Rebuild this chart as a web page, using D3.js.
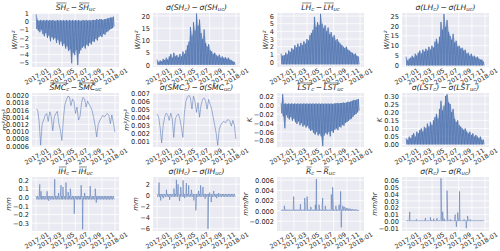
<!DOCTYPE html>
<html>
<head>
<meta charset="utf-8">
<script src="https://cdn.jsdelivr.net/npm/d3@7"></script>
<style>
  body { margin: 0; background: #fff; }
  svg text { font-family: "DejaVu Sans", sans-serif; fill: #262626; }
</style>
</head>
<body>
<svg width="500" height="251"></svg>
<script>
const tickMonths = ["2017-01", "2017-03", "2017-05", "2017-07", "2017-09", "2017-11", "2018-01"];

// weekly upper / lower envelopes over 2017 (week 0 = 1 Jan)
const shMeanHi = [0.9,0.2,0.1,0.2,0.1,0.2,0.1,0.2,0.1,0.2,0.1,0.2,0.1,0.1,0.2,0.1,0.2,0.1,0.2,0.1,0.2,0.1,0.2,0.1,0.2,0.1,0.2,0.1,0.2,0.1,0.1,0.2,0.1,0.2,0.1,0.2,0.1,0.2,0.2,0.2,0.3,0.2,0.3,0.3,0.2,0.3,0.3,0.4,0.4,0.5,0.5,0.6];
const shMeanLo = [-0.9,-1.1,-1.3,-1.0,-1.5,-1.8,-1.4,-2.0,-1.7,-2.4,-1.9,-2.2,-2.0,-2.6,-2.2,-2.8,-2.4,-3.0,-2.7,-3.3,-3.0,-3.6,-3.4,-5.1,-3.8,-4.1,-3.5,-5.3,-3.9,-3.5,-3.2,-3.0,-3.3,-2.8,-3.0,-2.6,-2.8,-2.4,-2.5,-2.1,-2.3,-1.9,-1.7,-1.9,-1.5,-1.6,-1.3,-1.2,-1.0,-0.9,-0.8,-0.6];
const sdShHi = [2.2,1.2,1.8,1.5,2.5,2.0,3.0,2.2,3.5,4.5,3.0,5.0,3.5,4.0,3.2,4.5,3.5,5.5,4.5,6.0,8.0,9.5,15.5,12.0,17.5,14.0,21.0,16.0,18.5,13.0,10.5,14.5,9.0,7.5,8.5,6.0,5.5,4.5,5.0,4.0,3.5,4.2,3.0,3.5,2.8,3.2,2.5,3.0,2.2,2.0,1.5,1.2];
const sdShLo = 0.1;
const lhMeanHi = [1.1,0.8,0.9,1.2,1.0,1.5,1.3,1.8,1.6,2.2,1.9,2.4,2.0,2.5,2.2,2.7,2.4,3.0,2.8,3.5,3.8,4.2,5.9,4.6,5.2,4.8,6.3,5.0,4.4,4.8,4.0,4.5,3.6,3.9,3.2,3.5,2.8,3.0,2.6,2.4,2.2,2.0,1.8,2.0,1.6,1.5,1.3,1.2,1.0,1.1,0.8,0.7];
const lhMeanLo = -0.3;
const sdLhHi = [4.5,2.5,3.5,4.0,5.0,4.0,6.0,5.0,6.5,7.5,6.0,8.0,7.0,8.5,7.5,9.5,8.0,10.0,9.0,12.0,13.5,11.0,14.5,22.0,18.0,26.0,19.5,23.0,17.0,15.0,13.0,16.0,11.5,12.5,9.5,10.0,8.5,9.0,7.5,8.0,6.0,6.5,5.0,6.0,4.5,5.0,4.0,4.5,3.5,3.0,3.0,2.0];
const sdLhLo = 0.1;
const lstMeanHi = [0.004,0.025,0.003,0.004,0.003,0.004,0.003,0.004,0.003,0.004,0.003,0.004,0.003,0.004,0.003,0.004,0.003,0.004,0.003,0.004,0.003,0.004,0.003,0.004,0.003,0.004,0.003,0.004,0.003,0.004,0.003,0.004,0.003,0.004,0.003,0.004,0.004,0.005,0.004,0.005,0.005,0.006,0.005,0.006,0.008,0.007,0.009,0.010,0.012,0.011,0.013,0.014];
const lstMeanLo = [-0.018,-0.025,-0.052,-0.022,-0.028,-0.032,-0.026,-0.035,-0.030,-0.038,-0.042,-0.036,-0.045,-0.040,-0.048,-0.044,-0.050,-0.046,-0.052,-0.058,-0.055,-0.062,-0.066,-0.060,-0.068,-0.064,-0.070,-0.092,-0.068,-0.062,-0.066,-0.060,-0.070,-0.058,-0.062,-0.055,-0.052,-0.056,-0.048,-0.050,-0.044,-0.046,-0.040,-0.038,-0.035,-0.032,-0.030,-0.026,-0.022,-0.020,-0.016,-0.012];
const sdLstHi = [0.04,0.03,0.05,0.04,0.06,0.07,0.05,0.08,0.07,0.09,0.10,0.08,0.11,0.10,0.13,0.11,0.14,0.12,0.15,0.17,0.19,0.16,0.22,0.27,0.21,0.24,0.30,0.31,0.26,0.25,0.20,0.22,0.16,0.14,0.15,0.12,0.11,0.10,0.09,0.10,0.08,0.07,0.08,0.06,0.07,0.05,0.06,0.05,0.04,0.05,0.03,0.03];
const sdLstLo = 0.002;

// soil moisture: one value per week
const smcMean = [0.00163,0.00160,0.00128,0.00062,0.00122,0.00132,0.00145,0.00150,0.00128,0.00155,0.00142,0.00102,0.00140,0.00150,0.00156,0.00122,0.00105,0.00075,0.00135,0.00175,0.00188,0.00198,0.00196,0.00172,0.00190,0.00183,0.00150,0.00168,0.00132,0.00142,0.00180,0.00195,0.00190,0.00168,0.00185,0.00175,0.00168,0.00158,0.00138,0.00115,0.00085,0.00120,0.00130,0.00138,0.00145,0.00140,0.00146,0.00150,0.00145,0.00122,0.00146,0.00125,0.00098];
const sdSmc = [0.0044,0.0040,0.0027,0.0008,0.0030,0.0040,0.0045,0.0043,0.0036,0.0045,0.0038,0.0015,0.0038,0.0042,0.0044,0.0038,0.0028,0.0015,0.0045,0.0060,0.0065,0.0067,0.0064,0.0050,0.0066,0.0060,0.0046,0.0058,0.0040,0.0055,0.0062,0.0064,0.0060,0.0050,0.0062,0.0056,0.0050,0.0040,0.0030,0.0020,0.0005,0.0025,0.0030,0.0033,0.0035,0.0033,0.0036,0.0037,0.0035,0.0029,0.0036,0.0030,0.0013];

// near-zero bands plus isolated spikes [day of year, value]
const ihMeanBand = [0.015, -0.025];
const ihMeanSpikes = [[17,0.15],[23,0.07],[51,0.07],[58,-0.04],[86,0.21],[104,0.05],[115,0.14],[124,0.12],[138,0.17],[148,0.06],[158,0.10],[176,-0.19],[208,0.14],[215,-0.37],[224,0.05],[250,0.13],[273,0.10],[278,-0.06]];
const sdIhBand = [0.25, -0.25];
const sdIhSpikes = [[9,2.3],[17,-0.9],[28,-0.5],[43,1.0],[58,-0.8],[78,1.2],[89,2.8],[97,2.0],[104,-1.0],[109,1.5],[120,2.7],[127,-0.5],[135,2.2],[146,1.8],[158,1.0],[170,-0.9],[179,-2.7],[192,0.8],[201,1.8],[212,1.5],[222,-0.6],[235,-6.0],[242,0.5],[250,-1.2],[262,0.8],[275,-0.5],[284,0.4]];
const rMeanHi = [0.00025,0.00025,0.00025,0.00025,0.00025,0.00025,0.00025,0.00025,0.00025,0.00025,0.00025,0.00025,0.00025,0.00025,0.00025,0.00025,0.00025,0.00025,0.00025,0.00025,0.00025,0.00025,0.00025,0.00025,0.00025,0.00025,0.00025,0.00025,0.00025,0.00025,0.00025,0.00025,0.00025,0.00025,0.00025,0.00025,0.00025,0.00025,0.00025,0.00025,0.00025,0.0008,0.0007,0.0006,0.0005,0.00045,0.0004,0.00035,0.0003,0.0003,0.00025,0.0002];
const rMeanLo = 0.00002;
const rMeanSpikes = [[15,0.0010],[58,0.0028],[89,0.0013],[109,0.0025],[120,0.0028],[137,0.0008],[158,0.0012],[163,0.0062],[175,0.0012],[192,0.0025],[204,0.0010],[232,0.0032],[238,0.0046],[253,0.0010],[268,0.0012],[275,0.0038],[278,-0.0032],[284,0.0010],[291,0.0008]];
const sdRBand = [0.0015, 0.0003];
const sdRSpikes = [[17,0.014],[48,0.003],[89,0.005],[112,0.006],[127,0.004],[143,0.005],[161,0.063],[169,0.014],[176,0.004],[189,0.045],[204,0.003],[227,0.010],[232,-0.008],[238,0.013],[247,0.044],[268,0.003],[278,-0.010],[284,0.008],[296,0.003]];

// y tick labels per panel
const ticksShMean = [-5, -4, -3, -2, -1, 0, 1];
const ticksSdSh = [0, 5, 10, 15, 20];
const ticksLhMean = [0, 1, 2, 3, 4, 5, 6];
const ticksSdLh = [0, 5, 10, 15, 20, 25];
const ticksSmcMean = [0.0006, 0.0008, 0.0010, 0.0012, 0.0014, 0.0016, 0.0018, 0.0020];
const ticksSdSmc = [0.001, 0.002, 0.003, 0.004, 0.005, 0.006, 0.007];
const ticksLstMean = [-0.08, -0.06, -0.04, -0.02, 0, 0.02];
const ticksSdLst = [0, 0.05, 0.10, 0.15, 0.20, 0.25, 0.30];
const ticksIhMean = [-0.3, -0.2, -0.1, 0, 0.1, 0.2];
const ticksSdIh = [-6, -4, -2, 0, 2];
const ticksRMean = [-0.002, 0, 0.002, 0.004, 0.006];
const ticksSdR = [-0.01, 0, 0.01, 0.02, 0.03, 0.04, 0.05, 0.06];

const svg = d3.select("svg");
const colX = [32, 153, 277, 402], rowY = [13, 93, 177];
const W = 87, H = 54;
const blue = "#4C72B0";
const t0 = new Date(2017, 0, 1).getTime();
const toDate = day => new Date(t0 + day * 864e5);
const at = (a, i) => Array.isArray(a) ? a[i] : a;

const x = d3.scaleTime()
  .domain([new Date(2016, 11, 13), new Date(2018, 0, 19)])
  .range([0, W]);
const xTicks = tickMonths.map(d3.timeParse("%Y-%m"));

// zigzag through the weekly max and min so the trace fills like the dense original
function weekly(hi, lo) {
  const pts = [];
  for (let i = 0; i < 52; i++) {
    pts.push([i * 7, at(hi, i)]);
    pts.push([i * 7 + 3.5, at(lo, i)]);
  }
  return pts;
}
function spiky(hi, lo, spikes) {
  return weekly(hi, lo).concat(spikes).sort((a, b) => a[0] - b[0]);
}
const perWeek = vals => vals.map((v, i) => [i * 7, v]);

const bar = (a, b) => [[a, "o"], [b, "s"]];
const meanTitle = n => [...bar(n, "c"), ["\u2009−\u2009", "n"], ...bar(n, "uc")];
const sdTitle = n => [["σ(" + n, ""], ["c", "s"], [")\u2009−\u2009σ(" + n, ""], ["uc", "s"], [")", ""]];

const dense = {sw: 0.9, op: 0.8}, thin = {sw: 0.7, op: 0.75}, spike = {sw: 0.7, op: 0.75};

const panels = [
  {title: meanTitle("SH"), unit: "W/m²", domain: [-5.55, 1.05], ticks: ticksShMean, fmt: "d", band: [shMeanHi, shMeanLo], st: dense},
  {title: sdTitle("SH"), unit: "W/m²", domain: [-0.8, 21.2], ticks: ticksSdSh, fmt: "d", band: [sdShHi, sdShLo], st: dense},
  {title: meanTitle("LH"), unit: "W/m²", domain: [-0.65, 6.4], ticks: ticksLhMean, fmt: "d", band: [lhMeanHi, lhMeanLo], st: dense},
  {title: sdTitle("LH"), unit: "W/m²", domain: [-0.7, 26.5], ticks: ticksSdLh, fmt: "d", band: [sdLhHi, sdLhLo], st: dense},
  {title: meanTitle("SMC"), unit: "m³/m³", domain: [0.00057, 0.00207], ticks: ticksSmcMean, fmt: ".4f", data: perWeek(smcMean), st: thin},
  {title: sdTitle("SMC"), unit: "m³/m³", domain: [0.0003, 0.0070], ticks: ticksSdSmc, fmt: ".3f", data: perWeek(sdSmc), st: thin},
  {title: meanTitle("LST"), unit: "K", domain: [-0.094, 0.0276], ticks: ticksLstMean, fmt: ".2f", band: [lstMeanHi, lstMeanLo], st: dense},
  {title: sdTitle("LST"), unit: "K", domain: [-0.014, 0.318], ticks: ticksSdLst, fmt: ".2f", band: [sdLstHi, sdLstLo], st: dense},
  {title: meanTitle("IH"), unit: "mm", domain: [-0.39, 0.235], ticks: ticksIhMean, fmt: ".1f", data: spiky(ihMeanBand[0], ihMeanBand[1], ihMeanSpikes), st: spike},
  {title: sdTitle("IH"), unit: "mm", domain: [-6.4, 3.3], ticks: ticksSdIh, fmt: "d", data: spiky(sdIhBand[0], sdIhBand[1], sdIhSpikes), st: spike},
  {title: meanTitle("R"), unit: "mm/hr", domain: [-0.0039, 0.0066], ticks: ticksRMean, fmt: ".3f", data: spiky(rMeanHi, rMeanLo, rMeanSpikes), st: spike},
  {title: sdTitle("R"), unit: "mm/hr", domain: [-0.014, 0.065], ticks: ticksSdR, fmt: ".2f", data: spiky(sdRBand[0], sdRBand[1], sdRSpikes), st: spike}
];

panels.forEach((p, k) => {
  const g = svg.append("g")
    .attr("transform", `translate(${colX[k % 4]},${rowY[Math.floor(k / 4)]})`);
  const y = d3.scaleLinear().domain(p.domain).range([H, 0]);

  g.append("rect").attr("width", W).attr("height", H).attr("fill", "#EAEAF2");

  g.selectAll("line.gy").data(p.ticks).join("line").attr("class", "gy")
    .attr("x1", 0).attr("x2", W)
    .attr("y1", d => y(d)).attr("y2", d => y(d))
    .attr("stroke", "#fff").attr("stroke-width", 0.8);
  g.selectAll("line.gx").data(xTicks).join("line").attr("class", "gx")
    .attr("x1", d => x(d)).attr("x2", d => x(d))
    .attr("y1", 0).attr("y2", H)
    .attr("stroke", "#fff").attr("stroke-width", 0.8);

  const line = d3.line().x(d => x(toDate(d[0]))).y(d => y(d[1]));
  if (p.band) {
    // light fill between the weekly min and max, then the zigzag trace on top
    const [hi, lo] = p.band;
    const area = d3.area()
      .x((d, i) => x(toDate(i * 7 + 1.75)))
      .y0((d, i) => y(at(lo, i)))
      .y1(d => y(d));
    g.append("path").datum(hi)
      .attr("d", area)
      .attr("fill", blue)
      .attr("fill-opacity", 0.45);
    p.data = weekly(hi, lo);
  }
  g.append("path").datum(p.data)
    .attr("d", line)
    .attr("fill", "none")
    .attr("stroke", blue)
    .attr("stroke-width", p.st.sw)
    .attr("stroke-opacity", p.st.op)
    .attr("stroke-linejoin", "round");

  // y axis
  const ya = g.append("g")
    .call(d3.axisLeft(y).tickValues(p.ticks).tickFormat(d3.format(p.fmt)).tickSize(0).tickPadding(3))
    .attr("font-size", 6.6);
  ya.select(".domain").remove();

  // x axis, labels rotated 30 degrees and centred on the tick
  const xa = g.append("g")
    .attr("transform", `translate(0,${H})`)
    .call(d3.axisBottom(x).tickValues(xTicks).tickFormat(d3.timeFormat("%Y-%m")).tickSize(0))
    .attr("font-size", 6.3);
  xa.select(".domain").remove();
  xa.selectAll("text")
    .attr("y", 0).attr("dy", "0.35em")
    .attr("text-anchor", "middle")
    .attr("transform", "translate(0,9.5) rotate(-30)");

  // title with overlines and subscripts
  const fs = 7.6;
  const tt = g.append("text")
    .attr("x", W / 2).attr("y", -3.5)
    .attr("text-anchor", "middle")
    .attr("font-size", fs)
    .attr("font-style", "italic");
  let shifted = false;
  const marks = [];
  let idx = 0;
  p.title.forEach(([s, m]) => {
    const ts = tt.append("tspan").text(s);
    if (m === "s") {
      ts.attr("font-size", fs * 0.7);
      if (!shifted) ts.attr("dy", 1.6);
      shifted = true;
    } else if (shifted) {
      ts.attr("dy", -1.6);
      shifted = false;
    }
    if (m === "n") ts.attr("font-style", "normal");
    if (m === "o") marks.push([idx, idx + s.length - 1]);
    idx += s.length;
  });
  const tn = tt.node();
  marks.forEach(([a, b]) => {
    const ea = tn.getExtentOfChar(a), eb = tn.getExtentOfChar(b);
    g.append("line")
      .attr("x1", ea.x + 0.6).attr("x2", eb.x + eb.width + 0.4)
      .attr("y1", -3.5 - fs * 0.86).attr("y2", -3.5 - fs * 0.86)
      .attr("stroke", "#262626").attr("stroke-width", 0.55);
  });

  // unit label left of the tick labels
  const bb = ya.node().getBBox();
  const lx = Math.max(bb.x - 2, 7 - colX[k % 4]);
  g.append("text")
    .attr("transform", `translate(${lx},${H / 2}) rotate(-90)`)
    .attr("text-anchor", "middle")
    .attr("font-size", 7)
    .attr("font-style", "italic")
    .text(p.unit);
});
</script>
</body>
</html>
